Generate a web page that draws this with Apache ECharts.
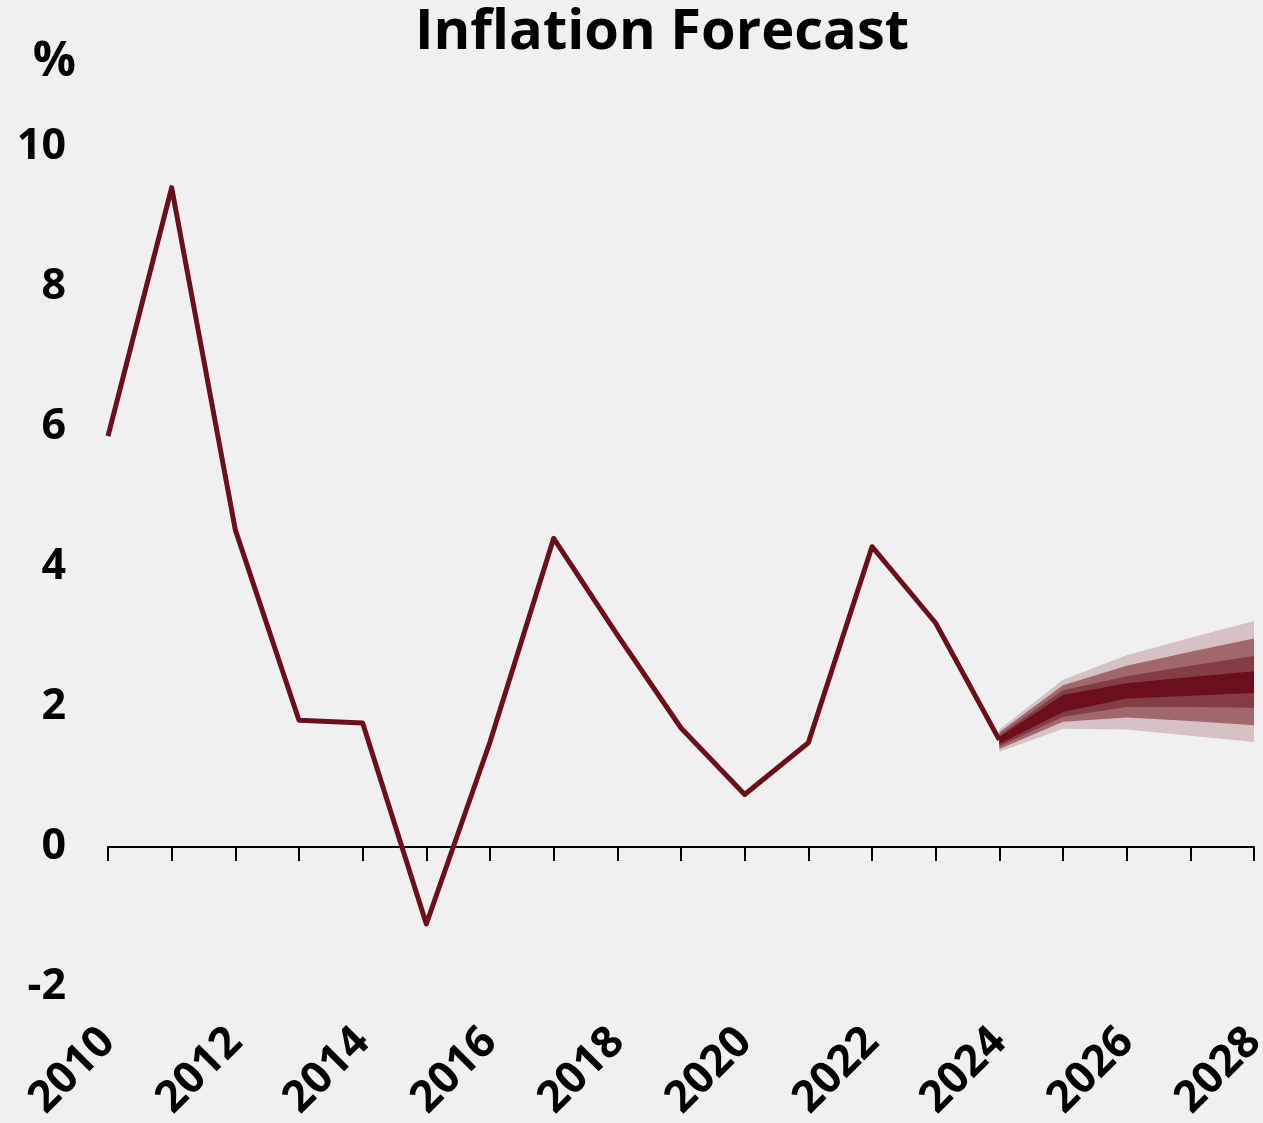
<!DOCTYPE html>
<html>
<head>
<meta charset="utf-8">
<style>
  html, body { margin: 0; padding: 0; background: #f0f0f0; overflow: hidden; }
  #chart { width: 1263px; height: 1123px; }
</style>
<script src="https://cdn.jsdelivr.net/npm/echarts@6/dist/echarts.min.js"></script>
</head>
<body>
<div id="chart"></div>
<script>
// ---- data ----
var years = ['2010','2011','2012','2013','2014','2015','2016','2017','2018','2019','2020','2021','2022','2023','2024','2025','2026','2027','2028'];
var inflation = [5.87, 9.42, 4.53, 1.81, 1.77, -1.10, 1.50, 4.41, 3.03, 1.70, 0.75, 1.49, 4.29, 3.20, 1.53];
var forecastYears = ['2024','2025','2026','2027','2028'];
var outerLow  = [1.36, 1.69, 1.68, 1.59, 1.50];
var outerHigh = [1.68, 2.39, 2.74, 2.99, 3.23];
var midLow    = [1.40, 1.79, 1.85, 1.80, 1.74];
var midHigh   = [1.64, 2.31, 2.59, 2.79, 2.98];
var innerLow  = [1.44, 1.86, 2.00, 2.00, 1.99];
var innerHigh = [1.60, 2.24, 2.44, 2.59, 2.73];
var coreLow   = [1.47, 1.93, 2.12, 2.16, 2.20];
var coreHigh  = [1.57, 2.17, 2.34, 2.43, 2.51];
var yTicks = [-2, 0, 2, 4, 6, 8, 10];

// ---- build ----
var FONT = '"Open Sans", "Noto Sans", sans-serif';
var lineColor = '#6b0f1a';
var offset = years.indexOf(forecastYears[0]);

function pad(arr) {
  var out = [];
  for (var i = 0; i < years.length; i++) {
    var j = i - offset;
    out.push(j >= 0 && j < arr.length ? arr[j] : '-');
  }
  return out;
}
function bandSeries(name, low, high, color) {
  var w = low.map(function (v, i) { return +(high[i] - v).toFixed(4); });
  return [
    { name: name + 'Low', type: 'line', stack: name, data: pad(low), symbol: 'none',
      lineStyle: { width: 0, opacity: 0 }, silent: true },
    { name: name, type: 'line', stack: name, data: pad(w), symbol: 'none',
      lineStyle: { width: 0, opacity: 0 }, areaStyle: { color: color, opacity: 1 }, silent: true }
  ];
}

var histData = years.map(function (y, i) { return i < inflation.length ? inflation[i] : '-'; });

var series = [].concat(
  bandSeries('outer', outerLow, outerHigh, '#d6c2c4'),
  bandSeries('mid', midLow, midHigh, '#a0676d'),
  bandSeries('inner', innerLow, innerHigh, '#843c45'),
  bandSeries('core', coreLow, coreHigh, '#6b0f1a'),
  [{ name: 'Inflation', type: 'line', data: histData, symbol: 'none',
     lineStyle: { color: lineColor, width: 5, join: 'round' }, z: 3 }]
);

var chart = echarts.init(document.getElementById('chart'), null, { renderer: 'canvas', width: 1263, height: 1123 });
chart.setOption({
  backgroundColor: '#f0f0f0',
  animation: false,
  title: {
    text: 'Inflation Forecast',
    left: 410, top: 0,
    textStyle: { fontFamily: FONT, fontWeight: 'bold', fontSize: 56, color: '#000' }
  },
  graphic: [{
    type: 'text', right: 1263 - 76, top: 38,
    style: { text: '%', font: 'bold 48px ' + FONT, fill: '#000' }
  }],
  grid: { left: 108, right: 9, top: 147, bottom: 136, containLabel: false, outerBoundsMode: 'none' },
  xAxis: [{
    type: 'category', data: years, boundaryGap: false,
    axisLine: { onZero: true, lineStyle: { color: '#000', width: 2 } },
    axisTick: { show: true, interval: 0, length: 14, lineStyle: { color: '#000', width: 2 } },
    axisLabel: { show: false }, splitLine: { show: false }
  }, {
    type: 'category', data: years, boundaryGap: false, position: 'bottom',
    axisLine: { show: false, onZero: false }, axisTick: { show: false },
    axisLabel: { show: true, interval: 1, rotate: 45, margin: 48,
      fontFamily: FONT, fontWeight: 'bold', fontSize: 44, color: '#000' },
    splitLine: { show: false }
  }],
  yAxis: {
    type: 'value', min: yTicks[0], max: yTicks[yTicks.length - 1], interval: 2,
    axisLine: { show: false }, axisTick: { show: false }, splitLine: { show: false },
    axisLabel: { margin: 42, fontFamily: FONT, fontWeight: 'bold', fontSize: 43, color: '#000' }
  },
  series: series
});
</script>
</body>
</html>
